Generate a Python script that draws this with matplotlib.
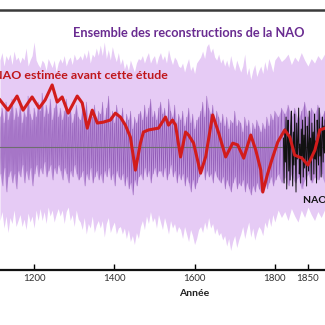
#!/usr/bin/env python3
# NAO reconstructions, 1115-1875, with the earlier estimate and the observed index.
import matplotlib
matplotlib.use("Agg")
import matplotlib.pyplot as plt
import numpy as np

# Ensemble envelope and core, every 5 years from 1115 to 1875
years = list(range(1115, 1880, 5))

ens_max = [
    2.9, 3.15, 2.7, 3.05, 2.9, 3.1, 2.75, 3.2, 2.9, 3.0,
    2.8, 3.0, 2.9, 3.3, 2.7, 2.9, 3.05, 3.5, 2.9, 2.75,
    2.65, 2.9, 2.8, 2.55, 2.95, 2.8, 2.65, 2.9, 2.5, 2.8,
    2.95, 2.8, 3.05, 2.7, 2.9, 3.0, 2.75, 3.1, 2.9, 2.95,
    3.05, 2.9, 3.15, 2.95, 3.25, 2.8, 3.1, 3.0, 3.3, 3.05,
    3.4, 3.05, 3.5, 2.95, 3.25, 2.9, 3.35, 3.05, 2.85, 3.15,
    2.75, 2.95, 2.6, 2.8, 2.55, 2.9, 2.7, 2.5, 2.8, 2.95,
    2.9, 3.05, 2.8, 3.0, 3.15, 2.8, 2.95, 3.05, 2.75, 3.0,
    3.15, 2.9, 3.05, 2.8, 3.25, 2.95, 2.75, 3.0, 2.9, 2.7,
    2.65, 2.8, 2.5, 2.75, 2.95, 2.55, 2.7, 2.45, 2.8, 2.9,
    3.0, 3.2, 2.95, 3.35, 3.45, 3.15, 3.3, 3.0, 2.9, 3.1,
    2.8, 2.95, 2.7, 2.9, 2.65, 3.05, 2.75, 2.55, 2.9, 2.7,
    2.5, 2.7, 3.1, 2.4, 2.65, 2.25, 2.55, 2.75, 2.35, 2.55,
    2.7, 2.45, 2.85, 2.55, 2.95, 2.75, 2.5, 2.9, 3.05, 2.85,
    2.95, 3.1, 2.75, 3.0, 2.85, 3.15, 2.9, 2.7, 2.95, 2.8,
    3.05, 2.9, 3.1,
]
ens_min = [
    -2.45, -2.15, -2.7, -2.3, -2.85, -2.35, -2.55, -2.1, -2.65, -2.45,
    -2.25, -2.65, -2.4, -2.75, -2.2, -2.5, -2.3, -2.7, -2.1, -2.45,
    -2.05, -2.45, -2.15, -2.55, -2.0, -2.3, -2.1, -2.5, -2.25, -2.05,
    -2.3, -2.1, -2.55, -2.15, -2.0, -2.45, -2.25, -2.65, -2.1, -2.4,
    -2.5, -2.75, -2.35, -2.9, -2.55, -2.7, -2.3, -2.85, -2.6, -2.45,
    -2.7, -2.45, -3.0, -2.55, -2.35, -2.85, -2.65, -2.5, -2.9, -2.7,
    -2.65, -2.9, -2.7, -3.05, -2.75, -3.15, -2.95, -3.25, -2.85, -3.05,
    -2.65, -2.45, -2.75, -2.3, -2.55, -2.15, -2.5, -2.35, -2.7, -2.25,
    -2.5, -2.75, -2.35, -2.6, -2.9, -2.45, -2.7, -2.55, -2.85, -2.65,
    -2.75, -3.05, -2.65, -2.9, -3.15, -2.75, -2.95, -3.25, -3.05, -2.75,
    -2.65, -2.85, -2.5, -2.75, -2.35, -2.7, -2.55, -2.9, -2.7, -2.95,
    -2.85, -3.1, -2.95, -3.3, -3.05, -3.45, -3.15, -2.95, -3.35, -3.1,
    -2.9, -2.65, -3.05, -2.75, -2.5, -3.0, -2.7, -3.1, -2.85, -2.65,
    -2.75, -2.95, -2.5, -2.7, -2.35, -2.65, -2.25, -2.5, -2.1, -2.35,
    -2.15, -2.45, -2.05, -2.3, -2.5, -2.1, -2.35, -2.0, -2.25, -2.45,
    -2.15, -2.35, -2.1,
]
core_hi = [
    1.0, 1.3, 0.8, 1.5, 0.9, 1.2, 1.6, 0.9, 1.3, 1.0,
    1.4, 0.8, 1.2, 1.0, 1.7, 1.1, 0.9, 1.3, 1.0, 1.5,
    1.2, 1.8, 1.0, 1.4, 1.1, 1.6, 0.9, 1.3, 1.5, 1.0,
    1.3, 0.9, 1.2, 1.6, 1.0, 1.3, 0.8, 1.1, 1.4, 1.0,
    0.9, 1.3, 1.1, 1.5, 0.8, 1.2, 1.0, 1.4, 0.9, 1.2,
    1.1, 1.5, 0.9, 1.3, 1.7, 1.0, 1.2, 0.8, 1.4, 1.1,
    1.0, 1.3, 0.7, 1.1, 0.9, 1.2, 0.6, 1.0, 0.8, 1.1,
    1.2, 0.9, 1.4, 1.0, 1.3, 1.6, 1.0, 1.2, 0.9, 1.3,
    1.5, 1.1, 1.3, 0.9, 1.6, 1.2, 1.0, 1.4, 0.8, 1.1,
    0.9, 1.2, 0.7, 1.0, 1.3, 0.8, 1.1, 0.6, 0.9, 1.0,
    1.2, 1.5, 1.0, 1.7, 1.3, 1.1, 1.4, 0.9, 1.2, 1.0,
    0.8, 1.1, 0.7, 1.0, 0.6, 0.9, 0.8, 1.2, 0.7, 0.9,
    0.8, 0.5, 1.0, 0.7, 0.9, 0.4, 0.8, 0.6, 0.9, 0.7,
    0.5, 0.8, 0.6, 1.0, 0.7, 1.1, 0.9, 1.2, 1.0, 1.3,
    1.1, 1.4, 1.0, 1.3, 0.9, 1.2, 1.5, 1.0, 1.3, 1.1,
    1.4, 1.0, 1.2,
]
core_lo = [
    -0.9, -1.3, -0.7, -1.5, -1.0, -0.8, -1.2, -0.9, -1.4, -0.8,
    -1.0, -0.6, -1.2, -0.8, -1.1, -0.7, -1.3, -0.9, -0.6, -1.0,
    -0.7, -0.9, -0.5, -1.0, -0.8, -0.6, -1.1, -0.7, -0.9, -0.6,
    -0.8, -1.1, -0.7, -0.9, -1.2, -0.8, -1.0, -0.6, -0.9, -1.1,
    -1.0, -0.8, -1.3, -0.9, -1.1, -0.7, -1.2, -1.0, -0.8, -1.1,
    -0.9, -1.2, -0.8, -1.0, -0.7, -1.1, -0.9, -1.3, -0.8, -1.0,
    -1.1, -0.9, -1.3, -1.0, -1.4, -1.2, -1.6, -1.1, -1.3, -1.0,
    -0.9, -1.1, -0.7, -1.0, -0.8, -1.2, -0.9, -0.7, -1.0, -0.8,
    -0.8, -1.0, -0.7, -1.1, -0.9, -0.6, -1.0, -0.8, -1.2, -0.9,
    -1.1, -0.9, -1.3, -1.0, -1.2, -1.5, -1.1, -1.4, -1.2, -1.0,
    -0.9, -0.7, -1.1, -0.8, -1.0, -0.9, -1.2, -0.8, -1.0, -1.1,
    -1.2, -1.0, -1.4, -1.1, -1.3, -1.5, -1.2, -1.0, -1.4, -1.2,
    -1.3, -1.1, -1.5, -1.2, -1.4, -1.6, -1.3, -1.5, -1.2, -1.4,
    -1.5, -1.3, -1.1, -1.4, -1.2, -1.0, -1.3, -1.1, -0.9, -1.2,
    -1.0, -1.3, -0.9, -1.2, -1.0, -1.4, -1.1, -0.9, -1.2, -1.0,
    -1.1, -0.9, -1.2,
]

# Previous (smoothed) NAO estimate
prev_years = [
    1115, 1135, 1157.5, 1172.5, 1195, 1212.5, 1227.5, 1245, 1257.5, 1270,
    1285, 1307.5, 1320, 1332.5, 1345, 1357.5, 1372.5, 1390, 1402.5, 1415,
    1427.5, 1440, 1452.5, 1465, 1472.5, 1485, 1510, 1527.5, 1535, 1545,
    1552.5, 1565, 1577.5, 1585, 1597.5, 1615, 1627.5, 1645, 1660, 1677.5,
    1695, 1707.5, 1722.5, 1740, 1752.5, 1765, 1770, 1782.5, 1792.5, 1804.5,
    1815, 1822.7, 1830, 1841, 1850, 1860.6, 1868, 1875.8,
]
prev_nao = [
    1.57, 1.23, 1.7, 1.23, 1.67, 1.3, 1.57, 2.07, 1.5, 1.67,
    1.13, 1.7, 1.47, 0.63, 1.23, 0.8, 0.83, 0.9, 1.13, 1.0,
    0.73, 0.33, -0.77, 0.13, 0.5, 0.57, 0.63, 1.0, 0.73, 0.9,
    0.73, -0.33, 0.5, 0.4, 0.13, -0.87, -0.33, 1.07, 0.47, -0.33,
    0.13, 0.07, -0.37, 0.4, -0.1, -0.77, -1.5, -0.87, -0.43, 0.17,
    0.57, 0.33, -0.27, -0.37, -0.6, -0.1, 0.57, 0.63,
]

# Observed winter NAO index
obs_years = list(range(1813, 1877))
obs_nao = [
    0.3, -1.2, 0.6, -0.5, 1.0, -1.4, 0.2, 0.9, -0.8, 0.4,
    -1.1, 0.7, 1.2, -0.3, -1.3, 0.5, -0.6, 1.1, -0.2, -1.5,
    0.8, -0.4, 0.2, 1.3, -0.9, 0.1, -1.2, 0.6, -0.3, 0.9,
    -1.0, 0.4, -0.7, 1.0, -0.2, -1.3, 0.7, 0.1, -0.8, 1.2,
    -0.5, 0.3, -1.1, 0.8, -0.2, 0.5, -0.9, 1.1, -0.4, 0.2,
    -1.2, 0.9, 0.0, -0.6, 1.3, -0.3, 0.6, -1.0, 0.4, 1.0,
    -0.5, 0.7, -0.2, 0.9,
]

tick_years = [1200, 1400, 1600, 1800, 1850]

light_purple = "#e6cbf5"
mid_purple = "#a46fcb"
dark_purple = "#6a2a98"
nao_red = "#d21c1c"

# Time axis is stretched after 1800
stretch = 1.65
knots_in = [0, 1800, 3000]
knots_out = [0, 1800, 1800 + 1200 * stretch]


def fwd(x):
    return np.interp(x, knots_in, knots_out)


def inv(x):
    return np.interp(x, knots_out, knots_in)


fig = plt.figure(figsize=(3.25, 3.25), dpi=100)
ax = fig.add_axes([0, 0.1692, 1, 0.7998])
ax.set_xscale("function", functions=(fwd, inv))

ax.fill_between(years, ens_min, ens_max, color=light_purple, lw=0, zorder=1)
ax.fill_between(years, core_lo, core_hi, color=mid_purple, alpha=0.55, lw=0, zorder=2)

# ensemble core drawn as a noisy trace bouncing between its bounds
zig_x = np.repeat(years, 2).astype(float)
zig_x[1::2] += 2.5
zig_y = np.empty(2 * len(years))
zig_y[0::2] = core_hi
zig_y[1::2] = core_lo
ax.plot(zig_x, zig_y, color=dark_purple, lw=0.4, alpha=0.55, zorder=3)

ax.axhline(0, color="#6e6e6e", lw=0.8, zorder=4)
ax.plot(obs_years, obs_nao, color="#111111", lw=0.7, zorder=5)
ax.plot(prev_years, prev_nao, color=nao_red, lw=2.2, solid_joinstyle="round", zorder=6)

ax.set_xlim(1115, 1875.8)
ax.set_ylim(-4.1, 4.567)

for side in ["left", "right"]:
    ax.spines[side].set_visible(False)
ax.spines["top"].set_color("#3a3a3a")
ax.spines["top"].set_linewidth(1.8)
ax.spines["bottom"].set_color("#111111")
ax.spines["bottom"].set_linewidth(1.6)
ax.set_yticks([])
ax.set_xticks(tick_years)
ax.set_xticklabels([str(y) for y in tick_years], family="Lato")
ax.tick_params(axis="x", direction="in", length=4, width=1, pad=3,
               labelsize=7, labelcolor="#333333")
ax.xaxis.set_minor_locator(matplotlib.ticker.NullLocator())

ax.text(1600, -4.87, "Année", ha="center", va="center", fontsize=7.5,
        family="Lato", fontweight="bold", color="#222222", clip_on=False)
ax.text(1585, 3.8, "Ensemble des reconstructions de la NAO", ha="center",
        va="center", fontsize=9.2, family="Lato", fontweight="bold", color="#6a2c91")
ax.text(1097, 2.4, "NAO estimée avant cette étude", ha="left", va="center",
        fontsize=8.9, family="Lato", fontweight="bold", color="#c0161b", clip_on=False)
ax.text(1842, -1.77, "NAO observée", ha="left", va="center", fontsize=7.5,
        family="Lato", fontweight="bold", color="#111111", clip_on=False)

fig.savefig("out.png", dpi=100)
